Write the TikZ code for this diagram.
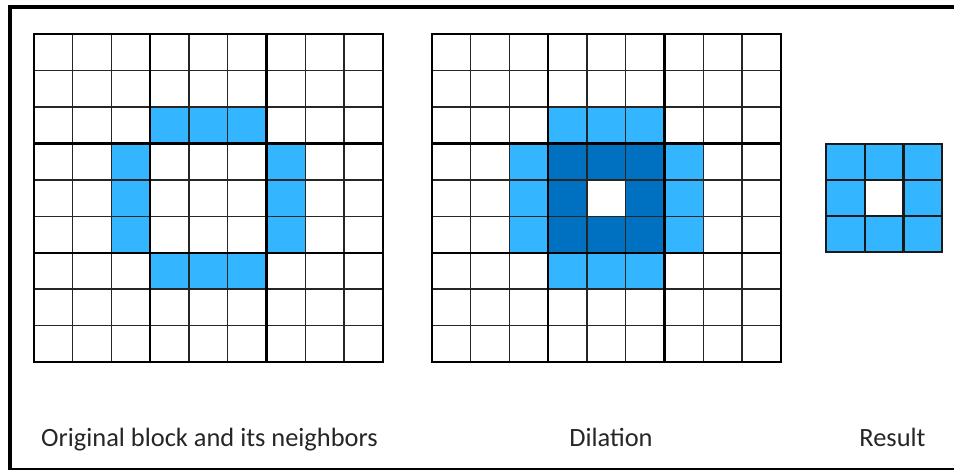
\documentclass[tikz,border=0pt]{standalone}
\usepackage{fontspec}
\setmainfont{Carlito}
\definecolor{lb}{RGB}{51,181,255}
\definecolor{db}{RGB}{0,112,192}
\newcommand\cw{38.75}
\newcommand\ch{36.45}
\newcommand\mygrid[2]{%
  \foreach \i in {0,...,9}{%
    \draw[gline] (#1+\i*\cw,#2) -- ++(0,9*\ch);
    \draw[gline] (#1,#2+\i*\ch) -- ++(9*\cw,0);
  }%
  \foreach \i in {0,3,6,9}{%
    \draw[gthickline] (#1+\i*\cw,#2) -- ++(0,9*\ch);
    \draw[gthickline] (#1,#2+\i*\ch) -- ++(9*\cw,0);
  }%
}
\newcommand\mycell[4]{% ox oy row col
  \fill[cellfill] (#1+#4*\cw,#2+#3*\ch) rectangle ++(\cw,\ch);
}
\begin{document}
\begin{tikzpicture}[x=1pt,y=-1pt,
  gline/.style={line width=1.4pt, black!85, line cap=rect},
  gthickline/.style={line width=2.4pt, black, line cap=rect},
  rline/.style={line width=2.2pt, black!90, line cap=rect},
  cellfill/.style={fill=lb},
  label/.style={font=\fontsize{26.4}{30}\selectfont, text=black!85, anchor=base, inner sep=0pt}]
\useasboundingbox (0,0) rectangle (954,471);
\fill[white] (0,0) rectangle (954,471);
% frame
\draw[line width=4pt] (954,7) -- (10,7) -- (10,469);
\draw[line width=2pt] (8,469) -- (954,469);
% ---------- grid 1: original
\foreach \r/\c in {2/3,2/4,2/5,3/2,4/2,5/2,3/6,4/6,5/6,6/3,6/4,6/5}{\mycell{34}{34}{\r}{\c}}
\mygrid{34}{34}
% ---------- grid 2: dilation
\foreach \r/\c in {2/3,2/4,2/5,3/2,4/2,5/2,3/6,4/6,5/6,6/3,6/4,6/5}{\mycell{432}{34}{\r}{\c}}
\foreach \r/\c in {3/3,3/4,3/5,4/3,4/5,5/3,5/4,5/5}{%
  \fill[db] (432+\c*\cw,34+\r*\ch) rectangle ++(\cw,\ch);}
\mygrid{432}{34}
% ---------- result
\foreach \r/\c in {0/0,0/1,0/2,1/0,1/2,2/0,2/1,2/2}{%
  \fill[lb] (826+\c*38.7,144+\r*36) rectangle ++(38.7,36);}
\foreach \i in {0,...,3}{%
  \draw[rline] (826+\i*38.7,144) -- ++(0,108);
  \draw[rline] (826,144+\i*36) -- ++(116.1,0);
}
% labels
\node[label] (lorig) at (209.5,446) {Original block and its neighbors};
\node[label] (ldil) at (611,446) {Dilation};
\node[label] (lres) at (892.5,446) {Result};
\end{tikzpicture}
\end{document}
